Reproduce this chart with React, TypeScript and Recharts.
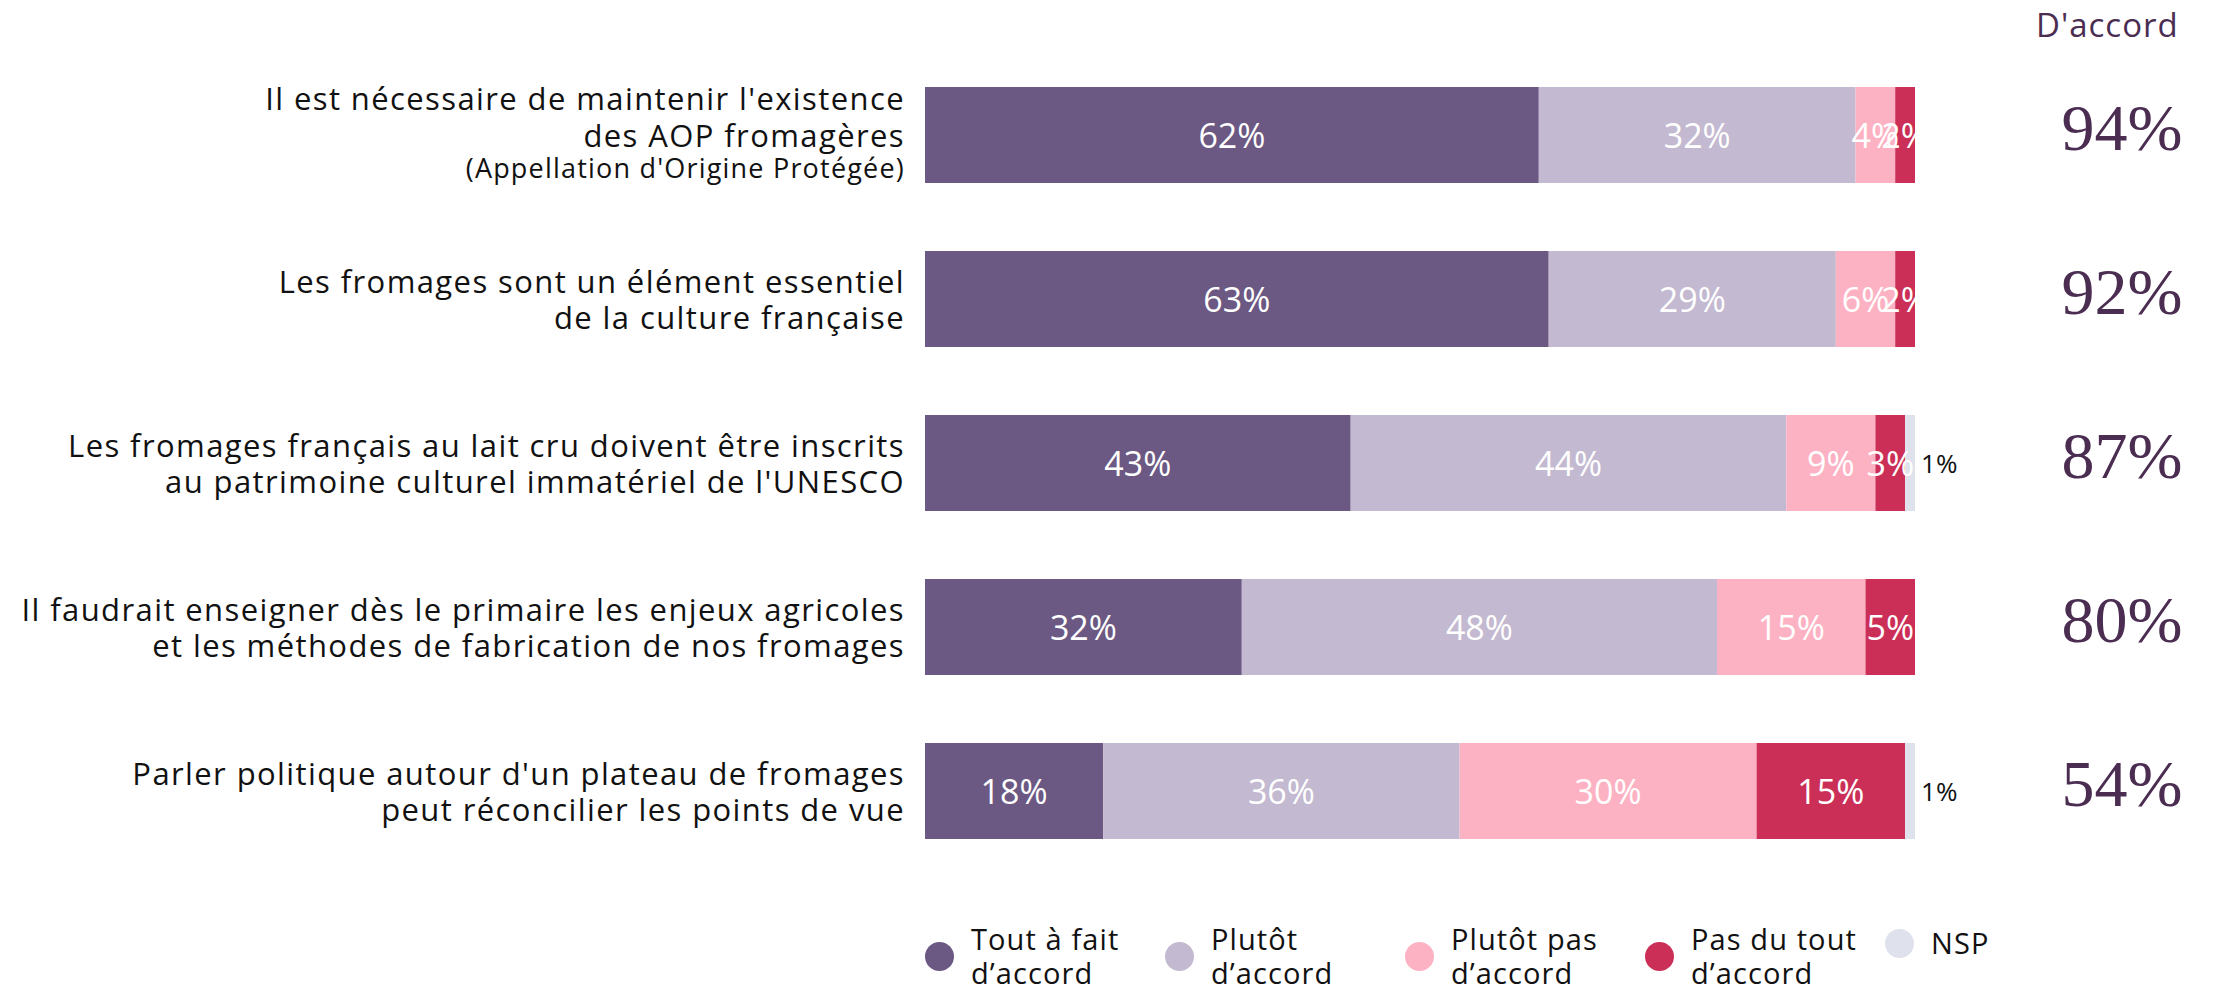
import React from 'react'
import { BarChart, Bar, XAxis, YAxis, LabelList } from 'recharts'

// Statements (category labels), each split into its display lines
const statements = [
  ["Il est nécessaire de maintenir l'existence", 'des AOP fromagères', "(Appellation d'Origine Protégée)"],
  ['Les fromages sont un élément essentiel', 'de la culture française'],
  ['Les fromages français au lait cru doivent être inscrits', "au patrimoine culturel immatériel de l'UNESCO"],
  ['Il faudrait enseigner dès le primaire les enjeux agricoles', 'et les méthodes de fabrication de nos fromages'],
  ["Parler politique autour d'un plateau de fromages", 'peut réconcilier les points de vue'],
]

const toutAFait = [62, 63, 43, 32, 18]
const plutot = [32, 29, 44, 48, 36]
const plutotPas = [4, 6, 9, 15, 30]
const pasDuTout = [2, 2, 3, 5, 15]
const nsp = [0, 0, 1, 0, 1]
const agreeTotals = [94, 92, 87, 80, 54]

const SERIES = [
  { key: 'toutAFait', name: ['Tout à fait', 'd’accord'], color: '#6b5883' },
  { key: 'plutot', name: ['Plutôt', 'd’accord'], color: '#c3b9d0' },
  { key: 'plutotPas', name: ['Plutôt pas', 'd’accord'], color: '#fdb2c3' },
  { key: 'pasDuTout', name: ['Pas du tout', 'd’accord'], color: '#cb2f57' },
  { key: 'nsp', name: ['NSP'], color: '#dfe1ec' },
]

const FONT = '"Open Sans", "Noto Sans", sans-serif'
const PURPLE_DARK = '#4b2d52'

const data = statements.map((lines, i) => ({
  label: lines.join(' '),
  lines,
  total: agreeTotals[i],
  toutAFait: toutAFait[i],
  plutot: plutot[i],
  plutotPas: plutotPas[i],
  pasDuTout: pasDuTout[i],
  nsp: nsp[i],
}))

function StatementTick(props: any) {
  const { x, y, payload } = props
  const row = data.find(d => d.label === payload.value)
  if (!row) return null
  const lines = row.lines
  // two-line statements sit around the bar centre; the three-line one has a smaller note
  const offsets = lines.length === 3 ? [-37, 0, 32] : [-18, 18]
  return (
    <g>
      {lines.map((line, i) => {
        const small = lines.length === 3 && i === 2
        return (
          <text
            key={i}
            x={x}
            y={y + offsets[i]}
            textAnchor="end"
            dominantBaseline="central"
            fontFamily={FONT}
            fontSize={small ? 27 : 31}
            letterSpacing={small ? 1.2 : 1.4}
            fill="#111"
          >
            {line}
          </text>
        )
      })}
    </g>
  )
}

function TotalTick(props: any) {
  const { x, y, payload } = props
  const row = data.find(d => d.label === payload.value)
  if (!row) return null
  return (
    <text
      x={x + 207}
      y={y + 15}
      textAnchor="middle"
      fontFamily='"Liberation Serif", "DejaVu Serif", serif'
      fontSize={66}
      fill={PURPLE_DARK}
    >
      {row.total}%
    </text>
  )
}

function InsideLabel(props: any) {
  const { x, y, width, height, value } = props
  if (!value) return null
  return (
    <text
      x={x + width / 2}
      y={y + height / 2}
      textAnchor="middle"
      dominantBaseline="central"
      fontFamily={FONT}
      fontSize={34}
      fill="#fff"
    >
      {value}%
    </text>
  )
}

function OutsideLabel(props: any) {
  const { x, y, width, height, value } = props
  if (!value) return null
  return (
    <text
      x={x + width + 6}
      y={y + height / 2}
      textAnchor="start"
      dominantBaseline="central"
      fontFamily={FONT}
      fontSize={26}
      fill="#111"
    >
      {value}%
    </text>
  )
}

function LegendBlock() {
  const lefts = [925, 1165, 1405, 1645, 1885]
  return (
    <>
      {SERIES.map((s, i) => (
        <div
          key={s.key}
          style={{
            position: 'absolute',
            left: lefts[i],
            top: s.name.length === 1 ? 926 : 922,
            display: 'flex',
            alignItems: 'center',
            fontFamily: FONT,
            fontSize: 29,
            letterSpacing: 1.1,
            lineHeight: '34px',
            color: '#111',
          }}
        >
          <div
            style={{
              width: 29,
              height: 29,
              borderRadius: '50%',
              background: s.color,
              marginRight: 17,
              flexShrink: 0,
            }}
          />
          <div>
            {s.name.map((n, j) => (
              <div key={j}>{n}</div>
            ))}
          </div>
        </div>
      ))}
    </>
  )
}

export default function App() {
  return (
    <div
      style={{
        position: 'absolute',
        left: 0,
        top: 0,
        width: 2220,
        height: 991,
        background: '#fff',
        overflow: 'hidden',
      }}
    >
      <div
        style={{
          position: 'absolute',
          left: 2036,
          top: 2,
          fontFamily: FONT,
          fontSize: 33,
          letterSpacing: 1,
          color: PURPLE_DARK,
        }}
      >
        D'accord
      </div>
      <BarChart
        width={2220}
        height={991}
        data={data}
        layout="vertical"
        margin={{ top: 53, right: 0, bottom: 118, left: 0 }}
        barCategoryGap={0}
      >
        <XAxis type="number" domain={[0, 100]} hide />
        <YAxis
          yAxisId="left"
          type="category"
          dataKey="label"
          width={925}
          axisLine={false}
          tickLine={false}
          tickSize={0}
          tickMargin={20}
          tick={<StatementTick />}
          interval={0}
        />
        <YAxis
          yAxisId="right"
          orientation="right"
          type="category"
          dataKey="label"
          width={305}
          axisLine={false}
          tickLine={false}
          tickSize={0}
          tickMargin={0}
          tick={<TotalTick />}
          interval={0}
        />
        {SERIES.map(s => (
          <Bar
            key={s.key}
            yAxisId="left"
            dataKey={s.key}
            stackId="a"
            fill={s.color}
            barSize={96}
            isAnimationActive={false}
          >
            <LabelList
              dataKey={s.key}
              content={s.key === 'nsp' ? <OutsideLabel /> : <InsideLabel />}
            />
          </Bar>
        ))}
      </BarChart>
      <LegendBlock />
    </div>
  )
}
